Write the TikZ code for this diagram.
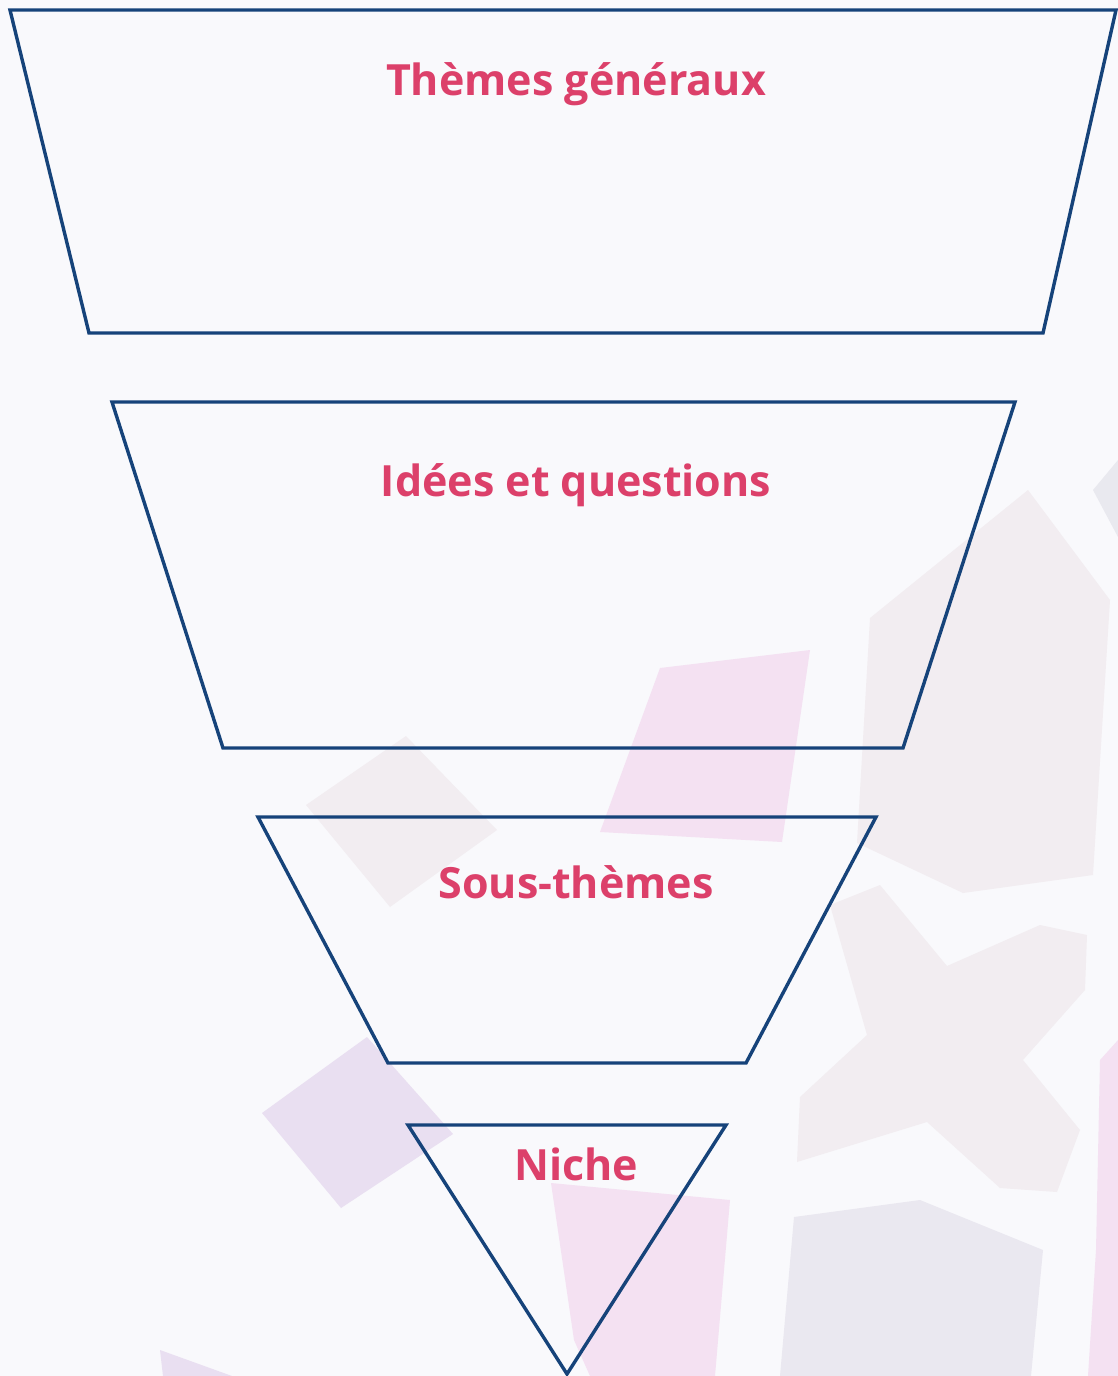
\documentclass[tikz,border=0pt]{standalone}
\usepackage{fontspec}
\setmainfont{Open Sans}
\definecolor{bgc}{RGB}{249,249,252}
\definecolor{funnelblue}{RGB}{22,67,122}
\definecolor{labelpink}{RGB}{220,64,106}
\definecolor{shbeige}{RGB}{242,237,241}
\definecolor{shlav}{RGB}{233,223,241}
\definecolor{shpink}{RGB}{244,225,242}
\definecolor{shgray}{RGB}{234,232,240}
\definecolor{shgray2}{RGB}{233,233,239}
\tikzset{
  funnel/.style={draw=funnelblue, line width=3.4pt, line join=miter},
  lbl/.style={text=labelpink, font=\bfseries\fontsize{43}{52}\selectfont, anchor=base, inner sep=0pt},
  deco/.style={draw=none}
}
\begin{document}
\begin{tikzpicture}[x=1pt,y=-1pt]
\useasboundingbox (0,0) rectangle (1118,1376);
\fill[bgc] (0,0) rectangle (1118,1376);
% faint background decoration
\fill[deco, shbeige] (406,736) -- (497,830) -- (390,907) -- (306,805) -- cycle;
\fill[deco, shlav] (367,1037) -- (453,1134) -- (341,1208) -- (262,1113) -- cycle;
\fill[deco, shpink] (660,668) -- (810,650) -- (782,842) -- (600,832) -- cycle;
\fill[deco, shbeige] (1028,490) -- (1110,600) -- (1093,875) -- (963,893) -- (857,843) -- (870,618) -- cycle;
\fill[deco, shgray2] (1093,490) -- (1118,460) -- (1118,537) -- cycle;
\fill[deco, shbeige] (830,905) -- (880,885) -- (947,966) -- (1040,925) -- (1087,935) -- (1085,990) -- (1023,1060) -- (1080,1130) -- (1057,1192) -- (1000,1188) -- (927,1122) -- (797,1162) -- (800,1097) -- (867,1035) -- cycle;
\fill[deco, shgray] (794,1217) -- (920,1200) -- (1043,1250) -- (1031,1376) -- (780,1376) -- cycle;
\fill[deco, shpink] (551,1183) -- (730,1200) -- (715,1376) -- (590,1376) -- (574,1340) -- cycle;
\fill[deco, shpink] (1100,1060) -- (1118,1040) -- (1118,1376) -- (1088,1376) -- (1096,1250) -- cycle;
\fill[deco, shlav] (160,1350) -- (232,1376) -- (163,1376) -- cycle;
% funnel levels
\coordinate (t1a) at (10,10);   \coordinate (t1b) at (1116,10);
\coordinate (t1c) at (1043,333); \coordinate (t1d) at (89,333);
\coordinate (t2a) at (112,402); \coordinate (t2b) at (1015,402);
\coordinate (t2c) at (903,748);  \coordinate (t2d) at (223,748);
\coordinate (t3a) at (258,817); \coordinate (t3b) at (876,817);
\coordinate (t3c) at (746,1063); \coordinate (t3d) at (388,1063);
\coordinate (t4a) at (408,1125); \coordinate (t4b) at (726,1125);
\coordinate (t4c) at (567,1374);
\draw[funnel] (t1a) -- (t1b) -- (t1c) -- (t1d) -- cycle;
\draw[funnel] (t2a) -- (t2b) -- (t2c) -- (t2d) -- cycle;
\draw[funnel] (t3a) -- (t3b) -- (t3c) -- (t3d) -- cycle;
\draw[funnel] (t4a) -- (t4b) -- (t4c) -- cycle;
% labels
\node[lbl] (l1) at (576,95) {Thèmes généraux};
\node[lbl] (l2) at (576,496) {Idées et questions};
\node[lbl] (l3) at (576,898) {Sous-thèmes};
\node[lbl] (l4) at (576,1180) {Niche};
\end{tikzpicture}
\end{document}
